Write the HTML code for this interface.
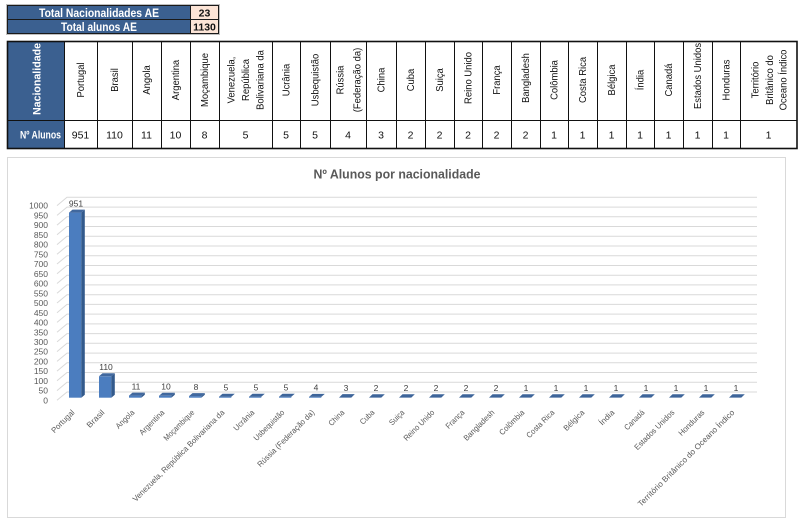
<!DOCTYPE html>
<html><head><meta charset="utf-8"><style>
html,body{margin:0;padding:0;background:#fff;}
svg{display:block;}
text{font-family:"Liberation Sans",sans-serif;}
</style></head><body>
<svg width="803" height="528" viewBox="0 0 803 528" xmlns="http://www.w3.org/2000/svg">
<rect width="803" height="528" fill="#fff"/>
<!-- summary boxes -->
<rect x="6.5" y="4.5" width="213" height="30" fill="none" stroke="#bfbfbf" stroke-width="1"/>
<rect x="7.5" y="5.5" width="183" height="14" fill="#3B6090" stroke="#1a1a1a" stroke-width="1"/>
<rect x="7.5" y="19.5" width="183" height="14" fill="#3B6090" stroke="#1a1a1a" stroke-width="1"/>
<rect x="190.5" y="5.5" width="28" height="14" fill="#FCE4D6" stroke="#1a1a1a" stroke-width="1"/>
<rect x="190.5" y="19.5" width="28" height="14" fill="#FCE4D6" stroke="#1a1a1a" stroke-width="1"/>
<text x="99" y="16.8" font-size="11.5" font-weight="bold" fill="#fff" text-anchor="middle" textLength="120" lengthAdjust="spacingAndGlyphs">Total Nacionalidades AE</text>
<text x="99" y="30.8" font-size="11.5" font-weight="bold" fill="#fff" text-anchor="middle" textLength="76" lengthAdjust="spacingAndGlyphs">Total alunos AE</text>
<text x="204.5" y="16.5" font-size="10.5" font-weight="bold" fill="#111" text-anchor="middle">23</text>
<text x="204.5" y="30.5" font-size="10.5" font-weight="bold" fill="#111" text-anchor="middle">1130</text>

<!-- main table -->
<rect x="7" y="41" width="57" height="107" fill="#3B6090"/>
<g stroke="#111" stroke-width="1">
<rect x="7.5" y="41.5" width="789.5" height="107" fill="none" stroke-width="1.6"/>
<line x1="7" y1="120.5" x2="797" y2="120.5"/>
<line x1="64.5" y1="41" x2="64.5" y2="148"/><line x1="97.5" y1="41" x2="97.5" y2="148"/>
<line x1="132.5" y1="41" x2="132.5" y2="148"/><line x1="161.5" y1="41" x2="161.5" y2="148"/>
<line x1="190.5" y1="41" x2="190.5" y2="148"/><line x1="219.5" y1="41" x2="219.5" y2="148"/>
<line x1="272.5" y1="41" x2="272.5" y2="148"/><line x1="300.5" y1="41" x2="300.5" y2="148"/>
<line x1="330.5" y1="41" x2="330.5" y2="148"/><line x1="366.5" y1="41" x2="366.5" y2="148"/>
<line x1="396.5" y1="41" x2="396.5" y2="148"/><line x1="425.5" y1="41" x2="425.5" y2="148"/>
<line x1="454.5" y1="41" x2="454.5" y2="148"/><line x1="482.5" y1="41" x2="482.5" y2="148"/>
<line x1="511.5" y1="41" x2="511.5" y2="148"/><line x1="540.5" y1="41" x2="540.5" y2="148"/>
<line x1="568.5" y1="41" x2="568.5" y2="148"/><line x1="597.5" y1="41" x2="597.5" y2="148"/>
<line x1="626.5" y1="41" x2="626.5" y2="148"/><line x1="654.5" y1="41" x2="654.5" y2="148"/>
<line x1="683.5" y1="41" x2="683.5" y2="148"/><line x1="712.5" y1="41" x2="712.5" y2="148"/>
<line x1="740.5" y1="41" x2="740.5" y2="148"/>
</g>
<text transform="translate(40.7,79) rotate(-90)" font-size="11" font-weight="bold" fill="#fff" text-anchor="middle" textLength="72" lengthAdjust="spacingAndGlyphs">Nacionalidade</text>
<text x="61" y="138.5" font-size="11" font-weight="bold" fill="#fff" text-anchor="end" textLength="41" lengthAdjust="spacingAndGlyphs">Nº Alunos</text>
<g font-size="10.5" fill="#111" text-anchor="middle">
<text transform="translate(84.1,80) rotate(-90) scale(0.9,1)">Portugal</text>
<text transform="translate(118.1,80) rotate(-90) scale(0.9,1)">Brasil</text>
<text transform="translate(150.1,80) rotate(-90) scale(0.9,1)">Angola</text>
<text transform="translate(179.1,80) rotate(-90) scale(0.9,1)">Argentina</text>
<text transform="translate(208.1,80) rotate(-90) scale(0.9,1)">Moçambique</text>
<text transform="translate(234.6,80) rotate(-90) scale(0.9,1)">Venezuela,</text>
<text transform="translate(249.1,80) rotate(-90) scale(0.9,1)">República</text>
<text transform="translate(263.6,80) rotate(-90) scale(0.9,1)">Bolivariana da</text>
<text transform="translate(289.6,80) rotate(-90) scale(0.9,1)">Ucrânia</text>
<text transform="translate(318.6,80) rotate(-90) scale(0.9,1)">Usbequistão</text>
<text transform="translate(343.6,80) rotate(-90) scale(0.9,1)">Rússia</text>
<text transform="translate(360.6,80) rotate(-90) scale(0.9,1)">(Federação da)</text>
<text transform="translate(384.6,80) rotate(-90) scale(0.9,1)">China</text>
<text transform="translate(414.1,80) rotate(-90) scale(0.9,1)">Cuba</text>
<text transform="translate(443.1,80) rotate(-90) scale(0.9,1)">Suiça</text>
<text transform="translate(471.6,78) rotate(-90) scale(0.9,1)">Reino Unido</text>
<text transform="translate(500.1,80) rotate(-90) scale(0.9,1)">França</text>
<text transform="translate(529.1,78) rotate(-90) scale(0.9,1)">Bangladesh</text>
<text transform="translate(557.6,80) rotate(-90) scale(0.9,1)">Colômbia</text>
<text transform="translate(586.1,80) rotate(-90) scale(0.9,1)">Costa Rica</text>
<text transform="translate(615.1,80) rotate(-90) scale(0.9,1)">Bélgica</text>
<text transform="translate(643.6,80) rotate(-90) scale(0.9,1)">Índia</text>
<text transform="translate(672.1,80) rotate(-90) scale(0.9,1)">Canadá</text>
<text transform="translate(701.1,76) rotate(-90) scale(0.9,1)">Estados Unidos</text>
<text transform="translate(729.6,80) rotate(-90) scale(0.9,1)">Honduras</text>
<text transform="translate(758.6,80) rotate(-90) scale(0.9,1)">Território</text>
<text transform="translate(773.1,80) rotate(-90) scale(0.9,1)">Britânico do</text>
<text transform="translate(786.6,80) rotate(-90) scale(0.9,1)">Oceano Índico</text>
</g>
<g font-size="10.5" fill="#111" text-anchor="middle">
<text x="80.5" y="138.5">951</text><text x="114.5" y="138.5">110</text>
<text x="146.5" y="138.5">11</text><text x="175.5" y="138.5">10</text>
<text x="204.5" y="138.5">8</text><text x="245.5" y="138.5">5</text>
<text x="286" y="138.5">5</text><text x="315" y="138.5">5</text>
<text x="348" y="138.5">4</text><text x="381" y="138.5">3</text>
<text x="410.5" y="138.5">2</text><text x="439.5" y="138.5">2</text>
<text x="468" y="138.5">2</text><text x="496.5" y="138.5">2</text>
<text x="525.5" y="138.5">2</text><text x="554" y="138.5">1</text>
<text x="582.5" y="138.5">1</text><text x="611.5" y="138.5">1</text>
<text x="640" y="138.5">1</text><text x="668.5" y="138.5">1</text>
<text x="697.5" y="138.5">1</text><text x="726" y="138.5">1</text>
<text x="768.5" y="138.5">1</text>
</g>

<!-- chart frame -->
<rect x="7.5" y="157.5" width="778" height="360" fill="#fff" stroke="#d9d9d9" stroke-width="1"/>
<text x="397" y="178.5" font-size="13" font-weight="bold" fill="#595959" text-anchor="middle" textLength="167" lengthAdjust="spacingAndGlyphs">Nº Alunos por nacionalidade</text>

<!-- gridlines -->
<g stroke="#d9d9d9" stroke-width="1" fill="none">
<path d="M57,400.3 L67,392 L757,392"/>
<path d="M57,390.6 L67,382.3 L757,382.3"/>
<path d="M57,380.8 L67,372.5 L757,372.5"/>
<path d="M57,371.1 L67,362.8 L757,362.8"/>
<path d="M57,361.4 L67,353.1 L757,353.1"/>
<path d="M57,351.6 L67,343.3 L757,343.3"/>
<path d="M57,341.9 L67,333.6 L757,333.6"/>
<path d="M57,332.2 L67,323.9 L757,323.9"/>
<path d="M57,322.4 L67,314.1 L757,314.1"/>
<path d="M57,312.7 L67,304.4 L757,304.4"/>
<path d="M57,303 L67,294.7 L757,294.7"/>
<path d="M57,293.2 L67,284.9 L757,284.9"/>
<path d="M57,283.5 L67,275.2 L757,275.2"/>
<path d="M57,273.8 L67,265.5 L757,265.5"/>
<path d="M57,264 L67,255.7 L757,255.7"/>
<path d="M57,254.3 L67,246 L757,246"/>
<path d="M57,244.6 L67,236.3 L757,236.3"/>
<path d="M57,234.8 L67,226.5 L757,226.5"/>
<path d="M57,225.1 L67,216.8 L757,216.8"/>
<path d="M57,215.4 L67,207.1 L757,207.1"/>
<path d="M57,205.6 L67,197.3 L757,197.3"/>
</g>
<!-- y labels -->
<g font-size="8.5" fill="#595959" text-anchor="end">
<text x="48" y="403.4">0</text><text x="48" y="393.7">50</text>
<text x="48" y="383.9">100</text><text x="48" y="374.2">150</text>
<text x="48" y="364.5">200</text><text x="48" y="354.7">250</text>
<text x="48" y="345">300</text><text x="48" y="335.3">350</text>
<text x="48" y="325.5">400</text><text x="48" y="315.8">450</text>
<text x="48" y="306.1">500</text><text x="48" y="296.3">550</text>
<text x="48" y="286.6">600</text><text x="48" y="276.9">650</text>
<text x="48" y="267.1">700</text><text x="48" y="257.4">750</text>
<text x="48" y="247.7">800</text><text x="48" y="237.9">850</text>
<text x="48" y="228.2">900</text><text x="48" y="218.5">950</text>
<text x="48" y="208.7">1000</text>
</g>

<!-- bars -->
<g>
<g transform="translate(69,0)"><rect x="0" y="212.6" width="12.3" height="185.1" fill="#4B7DBF"/><polygon points="12.3,397.7 12.3,212.6 15.8,209.6 15.8,394.7" fill="#335A8C"/><polygon points="0,212.6 12.3,212.6 15.8,209.6 3.5,209.6" fill="#41689E"/></g>
<g transform="translate(99,0)"><rect x="0" y="376.3" width="12.3" height="21.4" fill="#4B7DBF"/><polygon points="12.3,397.7 12.3,376.3 15.8,373.3 15.8,394.7" fill="#335A8C"/><polygon points="0,376.3 12.3,376.3 15.8,373.3 3.5,373.3" fill="#41689E"/></g>
<g transform="translate(129,0)"><rect x="0" y="395.6" width="12.3" height="2.1" fill="#4B7DBF"/><polygon points="12.3,397.7 12.3,395.6 15.8,392.6 15.8,394.7" fill="#335A8C"/><polygon points="0,395.6 12.3,395.6 15.8,392.6 3.5,392.6" fill="#41689E"/></g>
<g transform="translate(159,0)"><rect x="0" y="395.8" width="12.3" height="1.9" fill="#4B7DBF"/><polygon points="12.3,397.7 12.3,395.8 15.8,392.8 15.8,394.7" fill="#335A8C"/><polygon points="0,395.8 12.3,395.8 15.8,392.8 3.5,392.8" fill="#41689E"/></g>
<g transform="translate(189,0)"><rect x="0" y="396.1" width="12.3" height="1.6" fill="#4B7DBF"/><polygon points="12.3,397.7 12.3,396.1 15.8,393.1 15.8,394.7" fill="#335A8C"/><polygon points="0,396.1 12.3,396.1 15.8,393.1 3.5,393.1" fill="#41689E"/></g>
<g transform="translate(219,0)"><rect x="0" y="396.7" width="12.3" height="1" fill="#4B7DBF"/><polygon points="0,396.7 12.3,396.7 15.8,393.7 3.5,393.7" fill="#3E659A"/></g>
<g transform="translate(249,0)"><rect x="0" y="396.7" width="12.3" height="1" fill="#4B7DBF"/><polygon points="0,396.7 12.3,396.7 15.8,393.7 3.5,393.7" fill="#3E659A"/></g>
<g transform="translate(279,0)"><rect x="0" y="396.7" width="12.3" height="1" fill="#4B7DBF"/><polygon points="0,396.7 12.3,396.7 15.8,393.7 3.5,393.7" fill="#3E659A"/></g>
<g transform="translate(309,0)"><rect x="0" y="396.9" width="12.3" height="0.8" fill="#4B7DBF"/><polygon points="0,396.9 12.3,396.9 15.8,393.9 3.5,393.9" fill="#3E659A"/></g>
<g transform="translate(339,0)"><polygon points="0,397.6 12.3,397.6 15.8,394.1 3.5,394.1" fill="#3E659A"/></g>
<g transform="translate(369,0)"><polygon points="0,397.6 12.3,397.6 15.8,394.2 3.5,394.2" fill="#3E659A"/></g>
<g transform="translate(399,0)"><polygon points="0,397.6 12.3,397.6 15.8,394.2 3.5,394.2" fill="#3E659A"/></g>
<g transform="translate(429,0)"><polygon points="0,397.6 12.3,397.6 15.8,394.2 3.5,394.2" fill="#3E659A"/></g>
<g transform="translate(459,0)"><polygon points="0,397.6 12.3,397.6 15.8,394.2 3.5,394.2" fill="#3E659A"/></g>
<g transform="translate(489,0)"><polygon points="0,397.6 12.3,397.6 15.8,394.2 3.5,394.2" fill="#3E659A"/></g>
<g transform="translate(519,0)"><polygon points="0,397.6 12.3,397.6 15.8,394.3 3.5,394.3" fill="#3E659A"/></g>
<g transform="translate(549,0)"><polygon points="0,397.6 12.3,397.6 15.8,394.3 3.5,394.3" fill="#3E659A"/></g>
<g transform="translate(579,0)"><polygon points="0,397.6 12.3,397.6 15.8,394.3 3.5,394.3" fill="#3E659A"/></g>
<g transform="translate(609,0)"><polygon points="0,397.6 12.3,397.6 15.8,394.3 3.5,394.3" fill="#3E659A"/></g>
<g transform="translate(639,0)"><polygon points="0,397.6 12.3,397.6 15.8,394.3 3.5,394.3" fill="#3E659A"/></g>
<g transform="translate(669,0)"><polygon points="0,397.6 12.3,397.6 15.8,394.3 3.5,394.3" fill="#3E659A"/></g>
<g transform="translate(699,0)"><polygon points="0,397.6 12.3,397.6 15.8,394.3 3.5,394.3" fill="#3E659A"/></g>
<g transform="translate(729,0)"><polygon points="0,397.6 12.3,397.6 15.8,394.3 3.5,394.3" fill="#3E659A"/></g>
</g>

<!-- data labels -->
<g font-size="8.5" fill="#404040" text-anchor="middle">
<text x="76" y="206.3">951</text>
<text x="106" y="370">110</text>
<text x="136" y="389.3">11</text>
<text x="166" y="389.5">10</text>
<text x="196" y="389.8">8</text>
<text x="226" y="390.4">5</text>
<text x="256" y="390.4">5</text>
<text x="286" y="390.4">5</text>
<text x="316" y="390.6">4</text>
<text x="346" y="390.8">3</text>
<text x="376" y="391">2</text>
<text x="406" y="391">2</text>
<text x="436" y="391">2</text>
<text x="466" y="391">2</text>
<text x="496" y="391">2</text>
<text x="526" y="391.2">1</text>
<text x="556" y="391.2">1</text>
<text x="586" y="391.2">1</text>
<text x="616" y="391.2">1</text>
<text x="646" y="391.2">1</text>
<text x="676" y="391.2">1</text>
<text x="706" y="391.2">1</text>
<text x="736" y="391.2">1</text>
</g>

<!-- x labels -->
<g font-size="8" fill="#595959" text-anchor="end">
<text transform="translate(75,413) rotate(-45)" textLength="29" lengthAdjust="spacingAndGlyphs">Portugal</text>
<text transform="translate(105,413) rotate(-45)" textLength="21.5" lengthAdjust="spacingAndGlyphs">Brasil</text>
<text transform="translate(135,413) rotate(-45)" textLength="23" lengthAdjust="spacingAndGlyphs">Angola</text>
<text transform="translate(165,413) rotate(-45)" textLength="32" lengthAdjust="spacingAndGlyphs">Argentina</text>
<text transform="translate(195,413) rotate(-45)" textLength="40" lengthAdjust="spacingAndGlyphs">Moçambique</text>
<text transform="translate(225,413) rotate(-45)" textLength="126" lengthAdjust="spacingAndGlyphs">Venezuela, República Bolivariana da</text>
<text transform="translate(255,413) rotate(-45)" textLength="26" lengthAdjust="spacingAndGlyphs">Ucrânia</text>
<text transform="translate(285,413) rotate(-45)" textLength="40" lengthAdjust="spacingAndGlyphs">Usbequistão</text>
<text transform="translate(315,413) rotate(-45)" textLength="77" lengthAdjust="spacingAndGlyphs">Rússia (Federação da)</text>
<text transform="translate(345,413) rotate(-45)" textLength="19" lengthAdjust="spacingAndGlyphs">China</text>
<text transform="translate(375,413) rotate(-45)" textLength="17" lengthAdjust="spacingAndGlyphs">Cuba</text>
<text transform="translate(405,413) rotate(-45)" textLength="18" lengthAdjust="spacingAndGlyphs">Suiça</text>
<text transform="translate(435,413) rotate(-45)" textLength="40" lengthAdjust="spacingAndGlyphs">Reino Unido</text>
<text transform="translate(465,413) rotate(-45)" textLength="23" lengthAdjust="spacingAndGlyphs">França</text>
<text transform="translate(495,413) rotate(-45)" textLength="40" lengthAdjust="spacingAndGlyphs">Bangladesh</text>
<text transform="translate(525,413) rotate(-45)" textLength="32" lengthAdjust="spacingAndGlyphs">Colômbia</text>
<text transform="translate(555,413) rotate(-45)" textLength="36" lengthAdjust="spacingAndGlyphs">Costa Rica</text>
<text transform="translate(585,413) rotate(-45)" textLength="26" lengthAdjust="spacingAndGlyphs">Bélgica</text>
<text transform="translate(615,413) rotate(-45)" textLength="18" lengthAdjust="spacingAndGlyphs">Índia</text>
<text transform="translate(645,413) rotate(-45)" textLength="25" lengthAdjust="spacingAndGlyphs">Canadá</text>
<text transform="translate(675,413) rotate(-45)" textLength="53" lengthAdjust="spacingAndGlyphs">Estados Unidos</text>
<text transform="translate(705,413) rotate(-45)" textLength="33" lengthAdjust="spacingAndGlyphs">Honduras</text>
<text transform="translate(735,413) rotate(-45)" textLength="133" lengthAdjust="spacingAndGlyphs">Território Britânico do Oceano Índico</text>
</g>
</svg>
</body></html>
